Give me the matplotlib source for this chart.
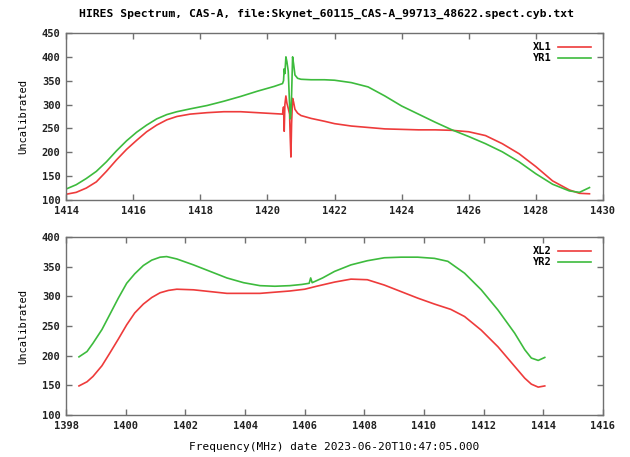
import matplotlib
matplotlib.use("Agg")
import matplotlib.pyplot as plt

plt.rcParams['font.family'] = ['DejaVu Sans Mono']
plt.rcParams['font.weight'] = 'bold'

title = "HIRES Spectrum, CAS-A, file:Skynet_60115_CAS-A_99713_48622.spect.cyb.txt"
xlabel = "Frequency(MHz) date 2023-06-20T10:47:05.000"
ylabel = "Uncalibrated"

# top panel
freq1 = [1414.0, 1414.3, 1414.6, 1414.9, 1415.2, 1415.5, 1415.8, 1416.1, 1416.4, 1416.7,
         1417.0, 1417.3, 1417.7, 1418.2, 1418.7, 1419.2, 1419.7, 1420.2, 1420.45, 1420.48,
         1420.50, 1420.52, 1420.55, 1420.58, 1420.62, 1420.66, 1420.68, 1420.70, 1420.72, 1420.75,
         1420.78, 1420.82, 1420.9, 1421.0, 1421.3, 1421.7, 1422.0, 1422.5, 1423.0, 1423.5,
         1424.0, 1424.5, 1425.0, 1425.5, 1426.0, 1426.5, 1427.0, 1427.5, 1428.0, 1428.5,
         1429.0, 1429.3, 1429.6]
xl1 = [112, 116, 125, 138, 160, 184, 206, 225, 243, 257,
       268, 275, 280, 283, 285, 285, 283, 281, 280, 295,
       244, 300, 318, 303, 292, 280, 230, 190, 260, 313,
       305, 290, 282, 277, 271, 265, 260, 255, 252, 249,
       248, 247, 247, 246, 243, 235, 218, 197, 170, 140,
       121, 114, 113]
yr1 = [123, 132, 145, 160, 180, 203, 224, 242, 257, 270,
       279, 285, 291, 298, 307, 317, 328, 338, 344, 350,
       375, 365, 400, 390, 370, 300, 270, 280, 320, 400,
       385, 362, 355, 353, 352, 352, 351, 346, 337, 318,
       297, 280, 263, 247, 233, 218, 201, 180, 155, 133,
       119, 116, 126]

# bottom panel
freq_xl2 = [1398.43, 1398.7, 1398.9, 1399.2, 1399.46, 1399.75, 1400.03, 1400.3, 1400.59, 1400.87,
            1401.15, 1401.43, 1401.71, 1402.27, 1402.83, 1403.39, 1403.95, 1404.5, 1405.0, 1405.5,
            1406.0, 1406.4, 1407.0, 1407.55, 1408.1, 1408.67, 1409.23, 1409.79, 1410.35, 1410.9,
            1411.36, 1411.92, 1412.48, 1413.04, 1413.38, 1413.6, 1413.83, 1414.05]
xl2 = [149, 156, 165, 183, 204, 228, 252, 272, 287, 298,
       306, 310, 312, 311, 308, 305, 305, 305, 307, 309,
       312, 317, 324, 329, 328, 319, 308, 297, 287, 278,
       266, 243, 215, 182, 162, 152, 147, 149]
freq_yr2 = [1398.43, 1398.7, 1398.9, 1399.2, 1399.46, 1399.75, 1400.03, 1400.3, 1400.59, 1400.87,
            1401.15, 1401.37, 1401.71, 1402.27, 1402.83, 1403.39, 1403.95, 1404.5, 1405.0, 1405.5,
            1405.9, 1406.15, 1406.2, 1406.25, 1406.6, 1407.0, 1407.55, 1408.1, 1408.67, 1409.23,
            1409.79, 1410.35, 1410.8, 1411.36, 1411.92, 1412.48, 1413.04, 1413.38, 1413.6, 1413.83,
            1414.05]
yr2 = [198, 207, 221, 244, 269, 297, 322, 338, 352, 361,
       366, 367, 363, 353, 342, 331, 323, 318, 317, 318,
       320, 322, 331, 323, 331, 342, 353, 360, 365, 366,
       366, 364, 359, 339, 311, 277, 238, 210, 196, 192,
       197]

red = '#ee3b3b'
green = '#3dbb3d'
frame = '#707070'


def style(ax, xlim, ylim, xticks, yticks):
    ax.set_xlim(*xlim)
    ax.set_ylim(*ylim)
    ax.set_xticks(xticks)
    ax.set_yticks(yticks)
    for s in ax.spines.values():
        s.set_color(frame)
        s.set_linewidth(1.0)
    ax.tick_params(direction='in', top=True, right=True, length=4, width=1,
                   color=frame, labelsize=7.5, labelcolor='#222222', pad=4)
    ax.set_ylabel(ylabel, fontsize=7.5, labelpad=10)
    ax.legend(loc='upper right', bbox_to_anchor=(0.995, 1.0), frameon=False,
              markerfirst=False, handlelength=3.2, fontsize=7.5,
              labelspacing=0.1, handletextpad=0.6)


fig = plt.figure(figsize=(6.3, 4.57), dpi=100)

ax1 = fig.add_axes([0.105, 0.5624, 0.852, 0.3654])
ax1.plot(freq1, xl1, color=red, lw=1.2, label='XL1')
ax1.plot(freq1, yr1, color=green, lw=1.2, label='YR1')
style(ax1, (1414, 1430), (100, 450), range(1414, 1431, 2), range(100, 451, 50))

ax2 = fig.add_axes([0.105, 0.0919, 0.852, 0.3895])
ax2.plot(freq_xl2, xl2, color=red, lw=1.2, label='XL2')
ax2.plot(freq_yr2, yr2, color=green, lw=1.2, label='YR2')
style(ax2, (1398, 1416), (100, 400), range(1398, 1417, 2), range(100, 401, 50))
ax2.set_xlabel(xlabel, fontsize=8, labelpad=8)

fig.text(326 / 630, 1 - 14 / 457, title, ha='center', va='center', fontsize=8.2)

fig.savefig('out.png', dpi=100)
